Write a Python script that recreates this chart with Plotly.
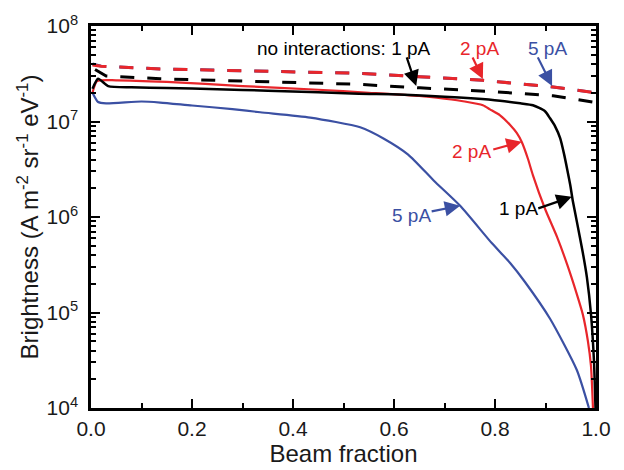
import plotly.graph_objects as go

# Beam fraction / brightness data
x_black = [0.003, 0.014, 0.034, 0.08, 0.15, 0.25, 0.35, 0.45, 0.53, 0.61, 0.7, 0.76, 0.81, 0.85, 0.875, 0.899, 0.909, 0.919, 0.929, 0.937, 0.943, 0.949, 0.954, 0.962, 0.974, 0.982, 0.99, 0.996, 0.999]
y_black = [2.2e7, 2.8e7, 2.35e7, 2.28e7, 2.24e7, 2.18e7, 2.1e7, 2.02e7, 1.95e7, 1.92e7, 1.82e7, 1.74e7, 1.65e7, 1.55e7, 1.48e7, 1.28e7, 1.08e7, 8.9e6, 6.7e6, 4.5e6, 3.15e6, 2.16e6, 1.48e6, 9.0e5, 4.2e5, 2.33e5, 9.7e4, 3.1e4, 1.0e4]

x_red = [0.003, 0.012, 0.05, 0.15, 0.3, 0.45, 0.55, 0.65, 0.7, 0.74, 0.776, 0.79, 0.81, 0.83, 0.843, 0.853, 0.865, 0.875, 0.899, 0.923, 0.943, 0.962, 0.974, 0.984, 0.99, 0.994]
y_red = [2.0e7, 2.65e7, 2.7e7, 2.6e7, 2.35e7, 2.15e7, 2.0e7, 1.85e7, 1.73e7, 1.62e7, 1.48e7, 1.34e7, 1.16e7, 9.2e6, 7.6e6, 6.1e6, 4.1e6, 2.75e6, 1.22e6, 6.15e5, 3.17e5, 1.56e5, 9.5e4, 5.0e4, 2.77e4, 1.0e4]

x_blue = [0.003, 0.014, 0.03, 0.1, 0.137, 0.2, 0.28, 0.335, 0.434, 0.533, 0.58, 0.628, 0.679, 0.731, 0.794, 0.83, 0.859, 0.909, 0.962, 0.986]
y_blue = [2.0e7, 1.6e7, 1.55e7, 1.62e7, 1.58e7, 1.47e7, 1.35e7, 1.25e7, 1.1e7, 8.7e6, 6.6e6, 4.5e6, 2.4e6, 1.31e6, 5.3e5, 3.3e5, 2.1e5, 8.6e4, 2.5e4, 1.0e4]

x_black_ni = [0.008, 0.03, 0.137, 0.3, 0.53, 0.651, 0.8, 0.915, 1.0]
y_black_ni = [3.5e7, 3.0e7, 2.8e7, 2.65e7, 2.45e7, 2.25e7, 2.05e7, 1.86e7, 1.58e7]

x_red_ni = [0.003, 0.02, 0.137, 0.3, 0.53, 0.65, 0.776, 0.915, 1.0]
y_red_ni = [3.9e7, 3.8e7, 3.55e7, 3.4e7, 3.2e7, 2.95e7, 2.7e7, 2.3e7, 2.0e7]

x_blue_ni = [0.003, 0.02, 0.137, 0.3, 0.53, 0.65, 0.776, 0.915, 1.0]
y_blue_ni = [4.0e7, 3.8e7, 3.55e7, 3.4e7, 3.2e7, 2.95e7, 2.7e7, 2.3e7, 2.0e7]

x_ticks = [0.0, 0.2, 0.4, 0.6, 0.8, 1.0]
x_ticktext = ["0.0", "0.2", "0.4", "0.6", "0.8", "1.0"]
y_ticks = [1e4, 1e5, 1e6, 1e7, 1e8]
y_ticktext = ["10<sup>4</sup>", "10<sup>5</sup>", "10<sup>6</sup>", "10<sup>7</sup>", "10<sup>8</sup>"]

BLACK = "#000000"
RED = "#e8262b"
BLUE = "#3b50a3"
DASH = "14px,13px"

fig = go.Figure()
fig.add_trace(go.Scatter(x=x_blue_ni, y=y_blue_ni, mode="lines",
                         line=dict(color=BLUE, width=3, dash=DASH)))
fig.add_trace(go.Scatter(x=x_black_ni, y=y_black_ni, mode="lines",
                         line=dict(color=BLACK, width=3, dash=DASH)))
fig.add_trace(go.Scatter(x=x_red_ni, y=y_red_ni, mode="lines",
                         line=dict(color=RED, width=3, dash=DASH)))
fig.add_trace(go.Scatter(x=x_blue, y=y_blue, mode="lines",
                         line=dict(color=BLUE, width=2.2, shape="spline", smoothing=0.6)))
fig.add_trace(go.Scatter(x=x_red, y=y_red, mode="lines",
                         line=dict(color=RED, width=2.2, shape="spline", smoothing=0.6)))
fig.add_trace(go.Scatter(x=x_black, y=y_black, mode="lines",
                         line=dict(color=BLACK, width=2.5, shape="spline", smoothing=0.6)))

minor_vals = [m * 10 ** e for e in range(4, 8) for m in range(2, 10)]

FONT = "Liberation Sans, Arial, sans-serif"
TXT = "#1a1a1a"

fig.update_layout(
    width=624, height=470,
    margin=dict(l=91, r=28, t=19, b=62),
    paper_bgcolor="white", plot_bgcolor="white",
    showlegend=False,
    font=dict(family=FONT, color=TXT),
    xaxis=dict(
        range=[0, 1], tickvals=x_ticks, ticktext=x_ticktext,
        ticks="inside", ticklen=9, tickwidth=2, tickcolor="black",
        minor=dict(ticks="inside", ticklen=5, tickwidth=2, tickcolor="black",
                   tickvals=[0.1, 0.3, 0.5, 0.7, 0.9]),
        showline=True, linewidth=2.5, linecolor="black", mirror="ticks",
        showgrid=False, zeroline=False,
        tickfont=dict(size=21, family=FONT, color=TXT),
        title=dict(text="Beam fraction", font=dict(size=24, family=FONT, color=TXT), standoff=0),
    ),
    yaxis=dict(
        type="log", range=[4, 8], tickvals=y_ticks, ticktext=y_ticktext,
        ticks="inside", ticklen=9, tickwidth=2, tickcolor="black",
        minor=dict(ticks="inside", ticklen=5, tickwidth=1.5, tickcolor="black",
                   tickvals=minor_vals),
        showline=True, linewidth=2.5, linecolor="black", mirror="ticks",
        showgrid=False, zeroline=False,
        ticklabelstandoff=6,
        tickfont=dict(size=21, family=FONT, color=TXT),
        title=dict(text="Brightness (A m<sup>-2</sup> sr<sup>-1</sup> eV<sup>-1</sup>)",
                   font=dict(size=24, family=FONT, color=TXT), standoff=2),
    ),
)

texts = [
    ("no interactions: 1 pA", 0.50, 7.763, BLACK),
    ("2 pA", 0.770, 7.763, RED),
    ("5 pA", 0.903, 7.763, BLUE),
    ("2 pA", 0.754, 6.684, RED),
    ("1 pA", 0.846, 6.087, BLACK),
    ("5 pA", 0.634, 6.015, BLUE),
]
for t, x, y, c in texts:
    fig.add_annotation(x=x, y=y, text=t, showarrow=False,
                       font=dict(size=19, family=FONT, color=c))

arrows = [
    (0.644, 7.373, -10, -30, BLACK),
    (0.776, 7.445, -11, -23, RED),
    (0.913, 7.373, -15, -30, BLUE),
    (0.853, 6.787, -30, 8, RED),
    (0.952, 6.211, -35, 12, BLACK),
    (0.731, 6.118, -30, 6, BLUE),
]
for x, y, ax, ay, c in arrows:
    fig.add_annotation(x=x, y=y, ax=ax, ay=ay, text="", showarrow=True,
                       arrowhead=2, arrowsize=1.4, arrowwidth=2.2, arrowcolor=c)

fig.write_html("out.html")
